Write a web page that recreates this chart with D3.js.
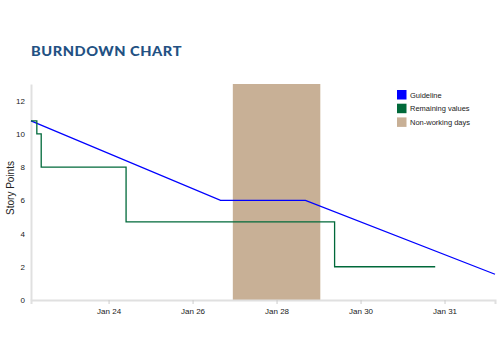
<!DOCTYPE html>
<html><head><meta charset="utf-8">
<script src="https://cdn.jsdelivr.net/npm/d3@7"></script>
<style>
body{margin:0;background:#fff;}
svg{display:block;}
</style></head><body>
<svg id="c" width="499" height="360"></svg>
<script>
const title = "BURNDOWN CHART";
const yLabel = "Story Points";
const xDomain = ["2024-01-22T03:40", "2024-02-02T04:50"];
const yDomain = [0, 13];
const yTicks = [0, 2, 4, 6, 8, 10, 12];
const xTickDates = ["2024-01-24T00:00", "2024-01-26T00:00", "2024-01-28T00:00", "2024-01-30T00:00", "2024-02-01T00:00"];
const xTickLabels = ["Jan 24", "Jan 26", "Jan 28", "Jan 30", "Jan 31"];
const nonWorking = [["2024-01-26T23:00", "2024-01-29T01:00"]];
const guideDates = ["2024-01-22T03:40", "2024-01-26T16:00", "2024-01-28T16:30", "2024-02-02T04:50"];
const guideValues = [10.78, 6, 6, 1.55];
const remainDates = ["2024-01-22T03:40", "2024-01-22T07:00", "2024-01-22T09:30", "2024-01-24T10:00", "2024-01-29T09:10", "2024-01-31T18:40"];
const remainValues = [10.78, 10, 8, 4.7, 2, 2];
const legendLabels = ["Guideline", "Remaining values", "Non-working days"];
const legendColors = ["#0000ff", "#00693a", "#c8b096"];

const parse = d3.utcParse("%Y-%m-%dT%H:%M");
const svg = d3.select("#c");
const L = 31, R = 495, T = 84, B = 300;
const x = d3.scaleUtc().domain(xDomain.map(parse)).range([L, R]);
const y = d3.scaleLinear().domain(yDomain).range([B, T]);

svg.append("text").attr("x", 31).attr("y", 56)
  .attr("font-family", "Lato").attr("font-weight", 900).attr("font-size", 13.5)
  .attr("letter-spacing", 0.5).attr("fill", "#235183").text(title)
  .attr("textLength", 151).attr("lengthAdjust", "spacingAndGlyphs");

// non-working rects
svg.append("g").selectAll("rect").data(nonWorking).join("rect")
  .attr("x", d => x(parse(d[0]))).attr("width", d => x(parse(d[1])) - x(parse(d[0])))
  .attr("y", y(yDomain[1])).attr("height", y(0) - y(yDomain[1]))
  .attr("fill", legendColors[2]);

// axes
const xAxis = svg.append("g").attr("transform", `translate(0,${B})`)
  .call(d3.axisBottom(x).tickValues(xTickDates.map(parse)).tickSize(4)
    .tickFormat((d, i) => xTickLabels[i]));
xAxis.select(".domain").attr("stroke", "#e0e0e0").attr("stroke-width", 2);
xAxis.selectAll(".tick line").attr("stroke", "#ccc");
xAxis.selectAll("text").attr("font-family", "Liberation Sans").attr("font-size", 8)
  .attr("fill", "#222").attr("dy", "0.9em");

const yAxis = svg.append("g").attr("transform", `translate(${L},0)`)
  .call(d3.axisLeft(y).tickValues(yTicks).tickSize(0).tickPadding(6));
yAxis.select(".domain").attr("stroke", "#e0e0e0").attr("stroke-width", 2);
yAxis.selectAll("text").attr("font-family", "Liberation Sans").attr("font-size", 8).attr("fill", "#222");

svg.append("text").attr("transform", `translate(14,188) rotate(-90)`)
  .attr("text-anchor", "middle").attr("font-family", "Liberation Sans").attr("font-size", 10)
  .attr("fill", "#222").text(yLabel);

// guideline
const gData = guideDates.map((d, i) => [parse(d), guideValues[i]]);
svg.append("path").datum(gData)
  .attr("d", d3.line().x(d => x(d[0])).y(d => y(d[1])))
  .attr("fill", "none").attr("stroke", legendColors[0]).attr("stroke-width", 1.3);

// remaining
const rData = remainDates.map((d, i) => [parse(d), remainValues[i]]);
svg.append("path").datum(rData)
  .attr("d", d3.line().curve(d3.curveStepAfter).x(d => x(d[0])).y(d => y(d[1])))
  .attr("fill", "none").attr("stroke", legendColors[1]).attr("stroke-width", 1.3);

// legend
const lg = svg.append("g").attr("transform", "translate(397,90)");
const items = lg.selectAll("g").data(legendLabels).join("g")
  .attr("transform", (d, i) => `translate(0,${i * 13.7})`);
items.append("rect").attr("width", 9.5).attr("height", 9.5).attr("fill", (d, i) => legendColors[i]);
items.append("text").attr("x", 13).attr("y", 5).attr("dy", "0.35em")
  .attr("font-family", "Liberation Sans").attr("font-size", 7.5).attr("fill", "#222").text(d => d);
</script>
</body></html>
